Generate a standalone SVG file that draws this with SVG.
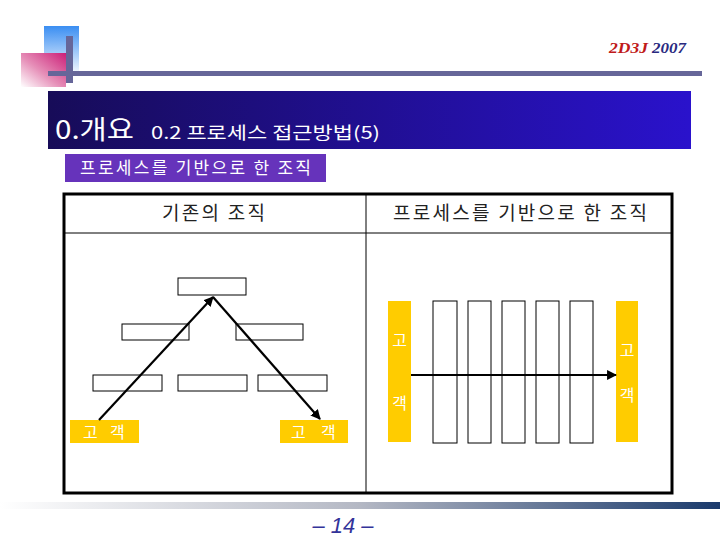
<svg xmlns="http://www.w3.org/2000/svg" width="720" height="540" viewBox="0 0 720 540">
<defs>
<linearGradient id="gBlue" x1="0" y1="0" x2="0" y2="1"><stop offset="0" stop-color="#3a8ef2"/><stop offset="1" stop-color="#ffffff"/></linearGradient>
<linearGradient id="gPink" x1="1" y1="0" x2="0" y2="1"><stop offset="0" stop-color="#cc1f78"/><stop offset="0.55" stop-color="#e68fb8"/><stop offset="1" stop-color="#ffffff"/></linearGradient>
<linearGradient id="gBand" x1="0" y1="0" x2="1" y2="0"><stop offset="0" stop-color="#170c58"/><stop offset="1" stop-color="#2a12cc"/></linearGradient>
<linearGradient id="gFoot" x1="0" y1="0" x2="1" y2="0"><stop offset="0" stop-color="#ffffff"/><stop offset="0.5" stop-color="#b4b8c4"/><stop offset="1" stop-color="#1a3a6c"/></linearGradient>
<marker id="ah" viewBox="0 0 10 10" refX="9" refY="5" markerWidth="4.5" markerHeight="4.5" orient="auto" markerUnits="strokeWidth"><path d="M0,0 L10,5 L0,10 z" fill="#000"/></marker>
<style>
.k{font-family:"Noto Sans CJK KR","Noto Sans",sans-serif}
.box{fill:#fff;stroke:#000;stroke-width:1}
.yel{fill:#ffcc00}
.wt{fill:#fff;font-size:16px}
.arr{stroke:#000;stroke-width:2.2;fill:none;marker-end:url(#ah)}
.hdr{fill:#222;font-size:19px}
</style>
</defs>
<rect width="720" height="540" fill="#fff"/>
<g id="decor">
<rect x="44" y="26" width="35" height="50" fill="url(#gBlue)"/>
<rect x="21" y="53" width="45" height="34" fill="url(#gPink)"/>
<rect x="66" y="36" width="7" height="47" fill="#666699"/>
<rect x="48" y="71" width="654" height="5" fill="#666699"/>
<text x="609" y="53" font-family="'Liberation Serif',serif" font-size="15" font-weight="bold" font-style="italic" fill="#c01a1a" textLength="39" lengthAdjust="spacingAndGlyphs">2D3J</text>
<text x="652" y="53" font-family="'Liberation Serif',serif" font-size="15" font-weight="bold" font-style="italic" fill="#2a2a80" textLength="34" lengthAdjust="spacingAndGlyphs">2007</text>
<rect x="48" y="91" width="643" height="58" fill="url(#gBand)"/>
<text class="k" x="55" y="139" font-size="26" fill="#fff" textLength="79" lengthAdjust="spacingAndGlyphs">0.개요</text>
<text class="k" x="151" y="139" font-size="17" fill="#fff" textLength="229" lengthAdjust="spacingAndGlyphs">0.2 프로세스 접근방법(5)</text>
<rect x="65" y="154" width="261" height="28" fill="#6633bb"/>
<text class="k" x="80" y="174" font-size="17" fill="#fff" textLength="231" lengthAdjust="spacing">프로세스를 기반으로 한 조직</text>
<rect x="0" y="502" width="720" height="7" fill="url(#gFoot)"/>
<text x="343" y="533" text-anchor="middle" font-family="'Liberation Sans',sans-serif" font-size="22" font-style="italic" fill="#333399">– 14 –</text>
</g>
<g id="table">
<rect x="64" y="194" width="608" height="299" fill="none" stroke="#000" stroke-width="3"/>
<line x1="64" y1="233" x2="672" y2="233" stroke="#000" stroke-width="1"/>
<line x1="366" y1="194" x2="366" y2="493" stroke="#000" stroke-width="1"/>
<text class="k hdr" x="162" y="220" textLength="103" lengthAdjust="spacing">기존의 조직</text>
<text class="k hdr" x="393" y="220" textLength="254" lengthAdjust="spacing">프로세스를 기반으로 한 조직</text>
</g>
<g id="tree">
<rect class="box" x="178" y="278" width="68" height="17"/>
<rect class="box" x="122" y="324" width="67" height="16"/>
<rect class="box" x="236" y="324" width="67" height="16"/>
<rect class="box" x="93" y="375" width="69" height="16"/>
<rect class="box" x="178" y="375" width="69" height="16"/>
<rect class="box" x="258" y="375" width="69" height="16"/>
</g>
<g id="cust-left">
<rect class="yel" x="70" y="420" width="69" height="23"/>
<text class="k wt" x="83" y="437.5">고</text>
<text class="k wt" x="110" y="437.5">객</text>
</g>
<g id="cust-right">
<rect class="yel" x="280" y="420" width="68" height="23"/>
<text class="k wt" x="291" y="437.5">고</text>
<text class="k wt" x="321" y="437.5">객</text>
</g>
<g id="process">
<rect class="box" x="433" y="301" width="24" height="142"/>
<rect class="box" x="468" y="301" width="23" height="142"/>
<rect class="box" x="502" y="301" width="23" height="142"/>
<rect class="box" x="536" y="301" width="23" height="142"/>
<rect class="box" x="570" y="301" width="23" height="142"/>
</g>
<g id="cust-bar-left">
<rect class="yel" x="388" y="301" width="23" height="141"/>
<text class="k wt" x="399.5" y="346" text-anchor="middle">고</text>
<text class="k wt" x="399.5" y="409" text-anchor="middle">객</text>
</g>
<g id="cust-bar-right">
<rect class="yel" x="616" y="301" width="22" height="141"/>
<text class="k wt" x="627" y="356" text-anchor="middle">고</text>
<text class="k wt" x="627" y="401" text-anchor="middle">객</text>
</g>
<g id="connectors">
<line class="arr" x1="99" y1="420" x2="213" y2="297"/>
<line class="arr" x1="213" y1="297" x2="320" y2="419"/>
<line class="arr" x1="411" y1="375" x2="616" y2="375" stroke-width="2"/>
</g>
</svg>
